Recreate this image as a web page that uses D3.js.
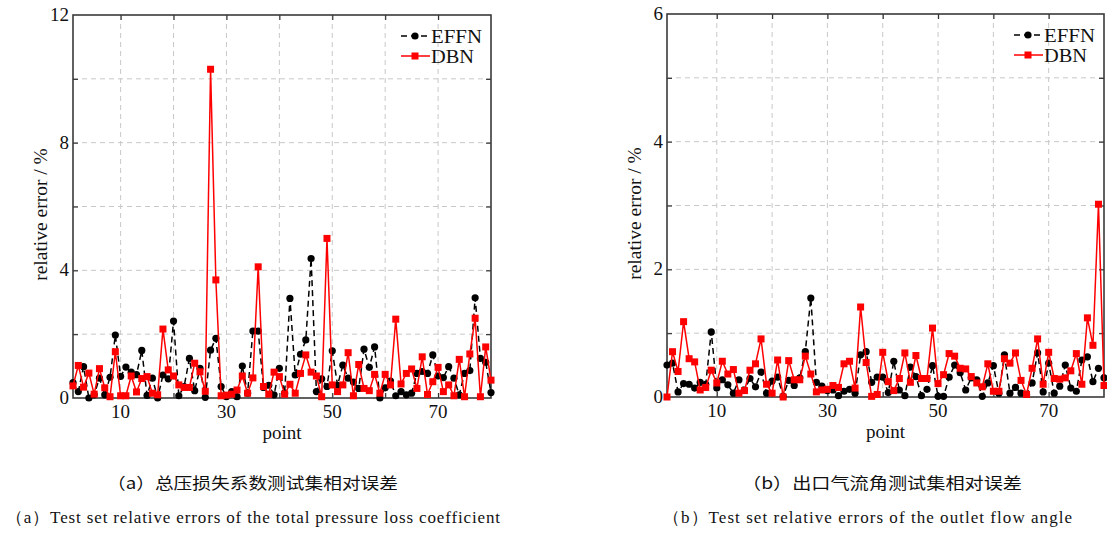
<!DOCTYPE html>
<html><head><meta charset="utf-8">
<script src="https://cdn.jsdelivr.net/npm/d3@7"></script>
<style>
html,body{margin:0;padding:0;background:#fff;}
svg{display:block;}
text{font-family:"Liberation Serif","Times New Roman",serif;fill:#111;}
.cjk{font-family:"Noto Sans CJK SC","Noto Sans CJK JP",sans-serif;}
</style></head>
<body>
<svg id="chart" width="1107" height="533"></svg>
<script>
// ---------- data ----------
const seriesNames = ["EFFN", "DBN"];
const xTickValues = [10, 30, 50, 70];

const pressureEFFN = [0.48,0.20,0.98,0.00,0.10,0.62,0.10,0.65,1.97,0.68,
0.97,0.81,0.73,1.49,0.08,0.62,0.00,0.72,0.60,2.41,
0.07,0.36,1.24,0.23,0.93,0.02,1.50,1.87,0.36,0.04,
0.20,0.04,1.00,0.15,2.10,2.10,0.33,0.40,0.10,0.93,
0.15,3.12,0.72,1.37,1.82,4.37,0.20,0.60,0.36,1.48,
0.40,1.03,0.62,0.50,0.30,1.53,0.96,1.60,0.00,0.32,
0.53,0.07,0.20,0.10,0.15,0.77,0.83,0.77,1.35,0.69,
0.64,0.98,0.62,0.10,0.77,0.86,3.14,1.24,1.12,0.17];

const pressureDBN = [0.38,1.02,0.34,0.78,0.12,0.92,0.32,0.04,1.45,0.07,
0.07,0.69,0.19,0.61,0.67,0.15,0.10,2.16,0.88,0.69,
0.41,0.33,0.33,1.09,0.82,0.21,10.30,3.70,0.07,0.09,
0.12,0.25,0.69,0.15,0.63,4.11,0.36,0.12,0.81,0.67,
0.12,0.43,0.15,0.77,1.35,0.81,0.69,0.04,5.00,0.41,
0.20,0.41,1.42,0.07,1.05,0.30,0.23,0.74,0.15,0.74,
0.41,2.47,0.44,0.77,0.91,0.30,1.29,0.11,0.51,0.96,
0.20,0.41,0.07,1.21,0.04,1.38,2.50,0.04,1.60,0.56];

const angleEFFN = [0.50,0.53,0.08,0.21,0.20,0.14,0.23,0.20,1.02,0.14,
0.27,0.19,0.06,0.27,0.11,0.29,0.16,0.39,0.06,0.25,
0.31,0.01,0.26,0.18,0.30,0.71,1.55,0.23,0.17,0.10,
0.11,0.02,0.09,0.12,0.06,0.66,0.71,0.23,0.31,0.31,
0.07,0.56,0.11,0.02,0.47,0.32,0.02,0.12,0.49,0.01,
0.01,0.31,0.50,0.38,0.11,0.30,0.27,0.01,0.22,0.49,
0.06,0.66,0.06,0.15,0.06,0.04,0.22,0.69,0.08,0.53,
0.06,0.17,0.50,0.14,0.09,0.58,0.63,0.24,0.45,0.30];

const angleDBN = [0.00,0.71,0.40,1.18,0.60,0.55,0.11,0.15,0.42,0.22,
0.56,0.36,0.43,0.06,0.10,0.42,0.52,0.91,0.20,0.06,
0.58,0.00,0.57,0.27,0.27,0.64,0.36,0.08,0.11,0.12,
0.18,0.15,0.52,0.56,0.14,1.41,0.54,0.01,0.04,0.70,
0.24,0.10,0.29,0.69,0.23,0.65,0.29,0.29,1.08,0.21,
0.35,0.68,0.64,0.45,0.44,0.32,0.22,0.16,0.52,0.09,
0.09,0.60,0.53,0.69,0.26,0.04,0.45,0.91,0.20,0.70,
0.29,0.28,0.30,0.41,0.68,0.20,1.24,0.81,3.02,0.18];

const leftYTicks = [0, 4, 8, 12];
const leftYGrid = [2, 4, 6, 8, 10];
const rightYTicks = [0, 2, 4, 6];
const rightYGrid = [1, 2, 3, 4, 5];
const xGrid = [10, 20, 30, 40, 50, 60, 70];

const captions = {
  a: ["（a）总压损失系数测试集相对误差", "（a）Test set relative errors of the total pressure loss coefficient"],
  b: ["（b）出口气流角测试集相对误差", "（b）Test set relative errors of the outlet flow angle"]
};

// ---------- drawing ----------
const svg = d3.select("#chart");
svg.append("rect").attr("width",1107).attr("height",533).attr("fill","#fff");

function panel(opt){
  const g = svg.append("g");
  const x = d3.scaleLinear().domain([1, 80]).range([opt.x0, opt.x1]);
  const y = d3.scaleLinear().domain([0, opt.ymax]).range([opt.y1, opt.y0]);

  // grid
  g.selectAll(".gx").data(xGrid).join("line")
    .attr("x1",d=>x(d)).attr("x2",d=>x(d)).attr("y1",opt.y0).attr("y2",opt.y1)
    .attr("stroke","#c8c8c8").attr("stroke-width",1).attr("stroke-dasharray","5,4");
  g.selectAll(".gy").data(opt.yGrid).join("line")
    .attr("x1",opt.x0).attr("x2",opt.x1).attr("y1",d=>y(d)).attr("y2",d=>y(d))
    .attr("stroke","#c8c8c8").attr("stroke-width",1).attr("stroke-dasharray","5,4");

  // axes (ticks inward)
  const ax = g.append("g").attr("transform",`translate(0,${opt.y1})`)
    .call(d3.axisBottom(x).tickValues(xGrid).tickSize(-5).tickFormat(""));
  const axTop = g.append("g").attr("transform",`translate(0,${opt.y0})`)
    .call(d3.axisTop(x).tickValues(xGrid).tickSize(-5).tickFormat(""));
  const ay = g.append("g").attr("transform",`translate(${opt.x0},0)`)
    .call(d3.axisLeft(y).tickValues(opt.yGrid).tickSize(-5).tickFormat(""));
  const ayR = g.append("g").attr("transform",`translate(${opt.x1},0)`)
    .call(d3.axisRight(y).tickValues(opt.yGrid).tickSize(-5).tickFormat(""));
  [ax,axTop,ay,ayR].forEach(a=>{
    a.selectAll(".domain").attr("stroke","none");
    a.selectAll("line").attr("stroke","#333").attr("stroke-width",1.2);
  });
  g.append("rect").attr("x",opt.x0).attr("y",opt.y0)
    .attr("width",opt.x1-opt.x0).attr("height",opt.y1-opt.y0)
    .attr("fill","none").attr("stroke","#3a3a3a").attr("stroke-width",1.6);

  // tick labels
  g.selectAll(".xl").data(xTickValues).join("text")
    .attr("x",d=>x(d)).attr("y",opt.y1+20).attr("text-anchor","middle")
    .attr("font-size",19).text(d=>d);
  g.selectAll(".yl").data(opt.yTicks).join("text")
    .attr("x",opt.x0-4).attr("y",d=>y(d)+6).attr("text-anchor","end")
    .attr("font-size",19).text(d=>d);

  // axis titles
  g.append("text").attr("x",(opt.x0+opt.x1)/2).attr("y",opt.y1+41)
    .attr("text-anchor","middle").attr("font-size",19).text("point");
  g.append("text").attr("transform",`translate(${opt.x0-26},${(opt.y0+opt.y1)/2+8}) rotate(-90)`)
    .attr("text-anchor","middle").attr("font-size",19.5).text("relative error / %");

  // series
  const line = d3.line().x((d,i)=>x(i+1)).y(d=>y(d));
  g.append("path").datum(opt.effn).attr("d",line).attr("fill","none")
    .attr("stroke","#000").attr("stroke-width",1.5).attr("stroke-dasharray","6,4");
  g.selectAll(".c").data(opt.effn).join("circle")
    .attr("cx",(d,i)=>x(i+1)).attr("cy",d=>y(d)).attr("r",3.6).attr("fill","#000");
  g.append("path").datum(opt.dbn).attr("d",line).attr("fill","none")
    .attr("stroke","#ff0000").attr("stroke-width",1.5);
  const s = 7;
  g.selectAll(".s").data(opt.dbn).join("rect")
    .attr("x",(d,i)=>x(i+1)-s/2).attr("y",d=>y(d)-s/2).attr("width",s).attr("height",s)
    .attr("fill","#ff0000");

  // legend
  const lx = opt.x1-90, ly = opt.y0+21;
  const lg = g.append("g");
  lg.append("line").attr("x1",lx).attr("x2",lx+29).attr("y1",ly).attr("y2",ly)
    .attr("stroke","#000").attr("stroke-width",1.5).attr("stroke-dasharray","6,4");
  lg.append("circle").attr("cx",lx+14).attr("cy",ly).attr("r",3.6).attr("fill","#000");
  lg.append("text").attr("x",lx+30).attr("y",ly+6.5).attr("font-size",18.5)
    .attr("textLength",51).attr("lengthAdjust","spacingAndGlyphs").text(seriesNames[0]);
  lg.append("line").attr("x1",lx).attr("x2",lx+29).attr("y1",ly+20).attr("y2",ly+20)
    .attr("stroke","#ff0000").attr("stroke-width",1.5);
  lg.append("rect").attr("x",lx+14-s/2).attr("y",ly+20-s/2).attr("width",s).attr("height",s).attr("fill","#ff0000");
  lg.append("text").attr("x",lx+30).attr("y",ly+26.5).attr("font-size",18.5)
    .attr("textLength",43).attr("lengthAdjust","spacingAndGlyphs").text(seriesNames[1]);

  // captions
  g.append("text").attr("class","cjk").attr("x",opt.capX1).attr("y",489)
    .attr("font-size",16).attr("textLength",opt.capW1).attr("lengthAdjust","spacingAndGlyphs")
    .text(opt.cap[0]);
  g.append("text").attr("x",opt.capX2).attr("y",523)
    .attr("font-size",17).attr("textLength",opt.capW2).attr("lengthAdjust","spacing")
    .text(opt.cap[1]);
}

panel({x0:73,x1:491,y0:15,y1:398,ymax:12,yTicks:leftYTicks,yGrid:leftYGrid,
  effn:pressureEFFN,dbn:pressureDBN,cap:captions.a,capX1:107,capW1:291,capX2:6,capW2:494});
panel({x0:667,x1:1104,y0:14,y1:397,ymax:6,yTicks:rightYTicks,yGrid:rightYGrid,
  effn:angleEFFN,dbn:angleDBN,cap:captions.b,capX1:742,capW1:280,capX2:663,capW2:409});
</script>
</body></html>
